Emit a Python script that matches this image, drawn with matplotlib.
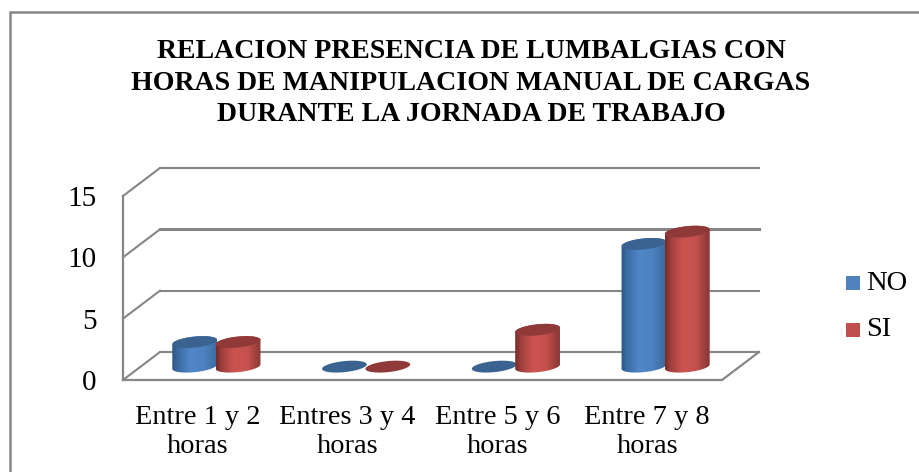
import numpy as np
import matplotlib
matplotlib.use('Agg')
import matplotlib.pyplot as plt
from matplotlib.colors import LinearSegmentedColormap
from matplotlib.patches import Polygon, Rectangle

plt.rcParams['font.family'] = ['Liberation Serif', 'DejaVu Serif']

categories = ['Entre 1 y 2\nhoras', 'Entres 3 y 4\nhoras', 'Entre 5 y 6\nhoras', 'Entre 7 y 8\nhoras']
no_values = [2, 0, 0, 10]
si_values = [2, 0, 3, 11]
y_ticks = [0, 5, 10, 15]
title = ('RELACION PRESENCIA DE LUMBALGIAS CON\n'
         'HORAS DE MANIPULACION MANUAL DE CARGAS\n'
         'DURANTE LA JORNADA DE TRABAJO')

W, H = 919, 472
GRID = '#868686'
DEPTH_X, DEPTH_Y = 37, 28   # back wall offset, pixels
RX, RY = 22.5, 5.5          # cylinder ellipse radii, pixels
TILT = np.radians(6)

fig = plt.figure(figsize=(W / 100, H / 100), dpi=100)
fig.add_artist(Rectangle((9.5 / W, -0.1), 1.2, 1.1 - 11.5 / H, transform=fig.transFigure,
                         fill=False, edgecolor=GRID, linewidth=1.8))

# front plane of the 3d box
x0, x1, y0, y1 = 123, 722, 380, 196
ax = fig.add_axes([x0 / W, 1 - y0 / H, (x1 - x0) / W, (y0 - y1) / H])
ax.patch.set_alpha(0)
ax.set_xlim(-0.5, 3.5)
ax.set_ylim(0, 15)
for s in ax.spines.values():
    s.set_visible(False)

px_x = 4 / (x1 - x0)
px_y = 15 / (y0 - y1)
dx = DEPTH_X * px_x
dy = DEPTH_Y * px_y

for v in y_ticks:
    ax.plot([-0.5, -0.5 + dx], [v, v + dy], color=GRID, lw=1.5, clip_on=False, zorder=1)
    ax.plot([-0.5 + dx, 3.5 + dx], [v + dy, v + dy], color=GRID, lw=2.2 if v == 10 else 1.5,
            clip_on=False, zorder=1)
ax.plot([-0.5, -0.5], [0, 15], color=GRID, lw=1.6, clip_on=False, zorder=1)
ax.plot([-0.5, 3.5, 3.5 + dx], [0, 0, dy], color=GRID, lw=1.6, clip_on=False, zorder=1)

blue_map = LinearSegmentedColormap.from_list('b', [(0, '#2c5783'), (0.12, '#3a6ba3'), (0.4, '#5087c8'),
                                                   (0.7, '#4d82c0'), (1, '#3c6a9c')])
red_map = LinearSegmentedColormap.from_list('r', [(0, '#752c2a'), (0.12, '#9f3f3c'), (0.4, '#cc5450'),
                                                  (0.7, '#c4514e'), (1, '#873634')])
gradient = np.linspace(0, 1, 64).reshape(1, -1)


def ellipse_xy(cx, cy, start=0, stop=2 * np.pi):
    t = np.linspace(start, stop, 60)
    ex = RX * np.cos(t) * np.cos(TILT) - RY * np.sin(t) * np.sin(TILT)
    ey = RX * np.cos(t) * np.sin(TILT) + RY * np.sin(t) * np.cos(TILT)
    return np.column_stack([cx + ex * px_x, cy + ey * px_y])


def cylinder(cx, value, cmap, top_color):
    base = dy / 2 - 0.05
    cx = cx + dx / 2
    top = base + value
    if value > 0:
        lower = ellipse_xy(cx, base, np.pi, 2 * np.pi)
        upper = ellipse_xy(cx, top, 0, np.pi)
        body = Polygon(np.vstack([lower, upper]), closed=True, transform=ax.transData,
                       facecolor='none', edgecolor='none')
        ax.add_patch(body)
        im = ax.imshow(gradient, cmap=cmap, aspect='auto', zorder=3, interpolation='bilinear',
                       extent=[cx - RX * px_x, cx + RX * px_x, base - 1, top + 1])
        im.set_clip_path(body)
    ax.add_patch(Polygon(ellipse_xy(cx, top), closed=True, facecolor=top_color,
                         edgecolor='none', zorder=3))


offset = 21.7 * px_x
for i in range(len(categories)):
    cylinder(i - offset, no_values[i], blue_map, '#3a6391')
    cylinder(i + offset, si_values[i], red_map, '#8f3a38')
ax.set_xlim(-0.5, 3.5)
ax.set_ylim(0, 15)

ax.set_xticks(range(len(categories)))
ax.set_xticklabels(categories, fontsize=20.4, linespacing=1.2)
ax.set_yticks(y_ticks)
ax.set_yticklabels([str(v) for v in y_ticks], fontsize=21)
ax.tick_params(axis='x', length=0, pad=18)
ax.tick_params(axis='y', length=0, pad=19)

fig.text(471 / W, 1 - 83 / H, title, ha='center', va='center', fontsize=20.1,
         fontweight='bold', linespacing=1.35, color='black')

legend_x = [846, 846]
legend_y = [283, 330]
for name, color, lx, ly in zip(['NO', 'SI'], ['#4f81bd', '#c0504d'], legend_x, legend_y):
    fig.add_artist(Rectangle((lx / W, 1 - (ly + 7) / H), 14 / W, 14 / H,
                             transform=fig.transFigure, facecolor=color, edgecolor='none'))
    fig.text((lx + 20) / W, 1 - ly / H, name, ha='left', va='center', fontsize=20.5)

fig.savefig('out.png', dpi=100)
